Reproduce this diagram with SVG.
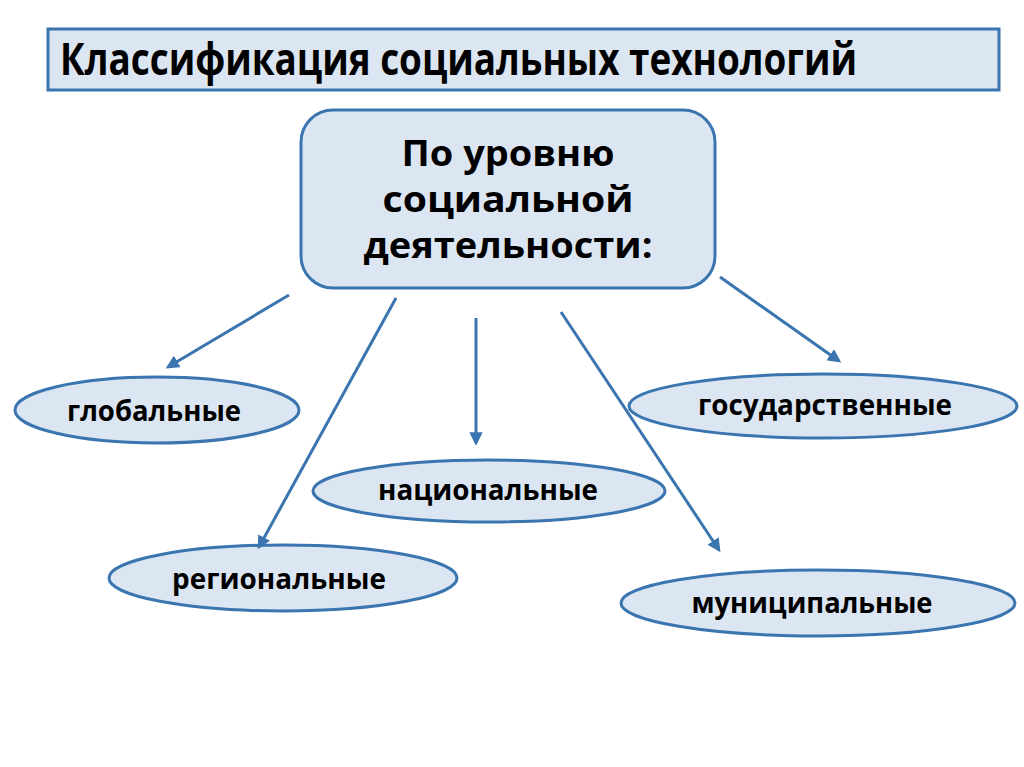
<svg xmlns="http://www.w3.org/2000/svg" width="1024" height="767" viewBox="0 0 1024 767">
<defs>
<style>
.box{fill:#dce6f2;stroke:#3a75b0;stroke-width:3}
.t{font-family:"Open Sans","Liberation Sans",sans-serif;font-weight:bold;fill:#000}
.conn{stroke:#3a75b0;stroke-width:3;fill:none;marker-end:url(#ah)}
</style>
<marker id="ah" viewBox="0 0 10 10" refX="8" refY="5" markerWidth="4.5" markerHeight="4.5" orient="auto" markerUnits="strokeWidth">
<path d="M0,0 L10,5 L0,10 z" fill="#3a75b0"/>
</marker>
</defs>
<rect width="1024" height="767" fill="#fff"/>
<g id="title">
<rect class="box" x="48" y="29" width="951" height="61"/>
<text class="t" x="60" y="75" font-size="44" textLength="797" lengthAdjust="spacingAndGlyphs">Классификация социальных технологий</text>
</g>
<g id="center">
<rect class="box" x="301" y="110" width="414" height="178" rx="32"/>
<text class="t" x="508" y="166" font-size="36" text-anchor="middle" textLength="213" lengthAdjust="spacingAndGlyphs">По уровню</text>
<text class="t" x="508" y="212" font-size="36" text-anchor="middle" textLength="251" lengthAdjust="spacingAndGlyphs">социальной</text>
<text class="t" x="508" y="258" font-size="36" text-anchor="middle" textLength="289" lengthAdjust="spacingAndGlyphs">деятельности:</text>
</g>
<g id="global">
<ellipse class="box" cx="157" cy="410" rx="142" ry="33"/>
<text class="t" x="154" y="421" font-size="29" text-anchor="middle" textLength="174" lengthAdjust="spacingAndGlyphs">глобальные</text>
</g>
<g id="state">
<ellipse class="box" cx="823" cy="406" rx="194" ry="32"/>
<text class="t" x="825" y="415" font-size="29" text-anchor="middle" textLength="254" lengthAdjust="spacingAndGlyphs">государственные</text>
</g>
<g id="national">
<ellipse class="box" cx="489" cy="491" rx="176" ry="31"/>
<text class="t" x="488" y="500" font-size="29" text-anchor="middle" textLength="220" lengthAdjust="spacingAndGlyphs">национальные</text>
</g>
<g id="regional">
<ellipse class="box" cx="283" cy="578" rx="174" ry="33"/>
<text class="t" x="279" y="589" font-size="29" text-anchor="middle" textLength="214" lengthAdjust="spacingAndGlyphs">региональные</text>
</g>
<g id="municipal">
<ellipse class="box" cx="818" cy="603" rx="197" ry="33"/>
<text class="t" x="812" y="613" font-size="29" text-anchor="middle" textLength="241" lengthAdjust="spacingAndGlyphs">муниципальные</text>
</g>
<g id="connectors">
<line class="conn" x1="289" y1="295" x2="168" y2="367"/>
<line class="conn" x1="396" y1="298" x2="259" y2="547"/>
<line class="conn" x1="476" y1="318" x2="476" y2="443"/>
<line class="conn" x1="561" y1="312" x2="719" y2="550"/>
<line class="conn" x1="720" y1="277" x2="839" y2="361"/>
</g>
</svg>
